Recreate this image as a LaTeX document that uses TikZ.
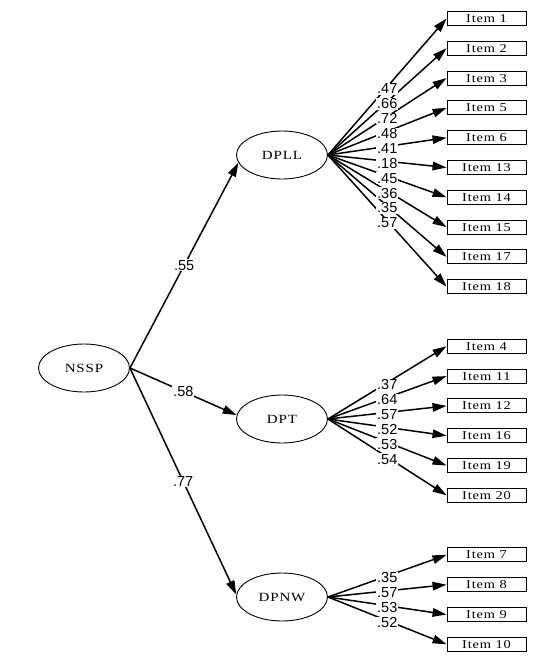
\documentclass[tikz,border=0pt]{standalone}
\usepackage{fontspec}
\setmainfont{Liberation Serif}
\newfontfamily\lblfont{Liberation Sans}
\newfontfamily\boxfont[FakeStretch=1.2,LetterSpace=7]{Liberation Serif}
\usetikzlibrary{arrows.meta,shapes.geometric}
\begin{document}
\begin{tikzpicture}[x=1pt,y=-1pt,
  latent/.style={ellipse,draw,line width=0.9pt,minimum width=91pt,minimum height=48pt,inner sep=0pt,font=\boxfont\fontsize{12.5}{12.5}\selectfont},
  itembox/.style={rectangle,draw,line width=0.9pt,minimum width=79pt,minimum height=14pt,inner sep=0pt,font=\boxfont\fontsize{12}{12}\selectfont},
  arr/.style={line width=1.5pt,-{Triangle[length=14pt,width=8.5pt]}},
  coef/.style={fill=white,inner sep=0.8pt,font=\lblfont\fontsize{14.5}{14.5}\selectfont}]
\useasboundingbox (0,0) rectangle (550,659);

% latent variables
\node[latent] (NSSP) at (84,368) {NSSP};
\node[latent] (DPLL) at (282,155) {DPLL};
\node[latent] (DPT)  at (282,419) {DPT};
\node[latent] (DPNW) at (282,597) {DPNW};

% item boxes
\foreach \n/\it in {0/1,1/2,2/3,3/5,4/6,5/13,6/14,7/15,8/17,9/18,
                    11/4,12/11,13/12,14/16,15/19,16/20,
                    18/7,19/8,20/9,21/10}
  \node[itembox] (i\it) at (486.5,{18.5+29.8*\n}) {Item \it};

% structural paths
\draw[arr] (NSSP.east) -- coordinate[pos=0.5] (mA) (DPLL.190);
\draw[arr] (NSSP.east) -- coordinate[pos=0.5] (mB) (DPT.175);
\draw[arr] (NSSP.east) -- coordinate[pos=0.5] (mC) (DPNW.177);

% measurement paths
\foreach \it in {1,2,3,5,6,13,14,15,17,18}
  \draw[arr] (DPLL.east) -- coordinate[pos=0.5] (m\it) (i\it.west);
\foreach \it in {4,11,12,16,19,20}
  \draw[arr] (DPT.east) -- coordinate[pos=0.5] (m\it) (i\it.west);
\foreach \it in {7,8,9,10}
  \draw[arr] (DPNW.east) -- coordinate[pos=0.5] (m\it) (i\it.west);

% coefficients
\node[coef] (cA) at (mA) {.55};
\node[coef] (cB) at (mB) {.58};
\node[coef] (cC) at (mC) {.77};
\foreach \it/\c in {1/.47,2/.66,3/.72,5/.48,6/.41,13/.18,14/.45,15/.36,17/.35,18/.57,
                    4/.37,11/.64,12/.57,16/.52,19/.53,20/.54,
                    7/.35,8/.57,9/.53,10/.52}
  \node[coef,yshift=-2pt] (c\it) at (m\it) {\c};
\end{tikzpicture}
\end{document}
